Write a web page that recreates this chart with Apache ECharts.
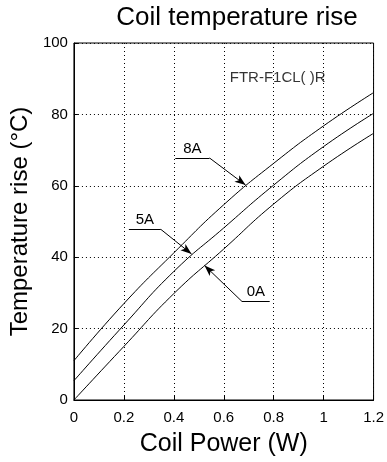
<!DOCTYPE html>
<html>
<head>
<meta charset="utf-8">
<script src="https://cdn.jsdelivr.net/npm/echarts@6/dist/echarts.min.js"></script>
<style>
  html, body { margin: 0; padding: 0; background: #fff; }
  #chart { width: 387px; height: 462px; }
</style>
</head>
<body>
<div id="chart"></div>
<script>
// coil power (W)
const power = [0, 0.2, 0.4, 0.6, 0.8, 1.0, 1.2];
// temperature rise (°C) per contact current
const rise0A = [0, 15, 29.8, 42.3, 54.9, 65.5, 74.7];
const rise5A = [5.4, 21, 36, 48.2, 60.2, 71, 80.3];
const rise8A = [11, 27, 41.2, 54.7, 66.3, 76.8, 86.1];

const xTicks = [0, 0.2, 0.4, 0.6, 0.8, 1, 1.2];
const yTicks = [0, 20, 40, 60, 80, 100];

// leader lines: [label anchor, underline end, arrow tip] in data coords
const leader8A = [[0.406, 67.8], [0.543, 67.8], [0.6875, 60.2]];
const leader5A = [[0.22, 47.8], [0.348, 47.8], [0.471, 40.9]];
const leader0A = [[0.784, 27.6], [0.673, 27.6], [0.523, 37.7]];
const partNo = { text: "FTR-F1CL( )R", at: [0.816, 90.3] };

const font = "Liberation Sans, Arial, sans-serif";

function pairs(xs, ys) {
  return xs.map((x, i) => [x, ys[i]]);
}

function leaderMarks(pts) {
  return [
    [{ coord: pts[0], symbol: "none" }, { coord: pts[1], symbol: "none" }],
    [{ coord: pts[1], symbol: "none" }, { coord: pts[2], symbol: "arrow" }],
  ];
}

function curve(name, ys, pts) {
  // label sits above the middle of the underline
  const mid = [(pts[0][0] + pts[1][0]) / 2, pts[0][1]];
  return {
    name: name,
    type: "line",
    smooth: true,
    showSymbol: false,
    silent: true,
    lineStyle: { color: "#000", width: 1 },
    data: pairs(power, ys),
    markLine: {
      silent: true,
      symbolSize: [6, 11],
      lineStyle: { color: "#000", width: 1, type: "solid" },
      label: { show: false },
      data: leaderMarks(pts),
    },
    markPoint: {
      silent: true,
      symbolSize: 0,
      data: [{ coord: mid, value: name }],
      label: {
        show: true,
        position: "top",
        distance: 2,
        color: "#000",
        fontFamily: font,
        fontSize: 15,
        formatter: name,
      },
    },
  };
}

const chart = echarts.init(document.getElementById("chart"), undefined, {
  renderer: "canvas",
});

chart.setOption({
  animation: false,
  backgroundColor: "#fff",
  title: {
    text: "Coil temperature rise",
    left: 237,
    top: 5,
    padding: 0,
    textAlign: "center",
    textStyle: { color: "#000", fontFamily: font, fontSize: 26, fontWeight: "normal" },
  },
  grid: {
    left: 71,
    right: 8,
    top: 43,
    bottom: 62,
    show: true,
    borderColor: "#000",
    borderWidth: 1,
  },
  xAxis: {
    type: "value",
    min: xTicks[0],
    max: xTicks[xTicks.length - 1],
    interval: 0.2,
    name: "Coil Power (W)",
    nameLocation: "middle",
    nameGap: 32,
    nameTextStyle: { color: "#000", fontFamily: font, fontSize: 25 },
    axisLine: { lineStyle: { color: "#000", width: 1 } },
    axisTick: { inside: true, length: 4, lineStyle: { color: "#000" } },
    axisLabel: { color: "#000", fontFamily: font, fontSize: 15, margin: 10 },
    splitLine: { show: true, lineStyle: { color: "#000", type: [1, 3], width: 1 } },
  },
  yAxis: {
    type: "value",
    min: yTicks[0],
    max: yTicks[yTicks.length - 1],
    interval: 20,
    name: "Temperature rise (°C)",
    nameLocation: "middle",
    nameGap: 27,
    nameTextStyle: { color: "#000", fontFamily: font, fontSize: 24 },
    axisLine: { show: true, lineStyle: { color: "#000", width: 1 } },
    axisTick: { show: true, inside: true, length: 4, lineStyle: { color: "#000" } },
    axisLabel: { color: "#000", fontFamily: font, fontSize: 15, margin: 6 },
    splitLine: { show: true, lineStyle: { color: "#000", type: [1, 3], width: 1 } },
  },
  series: [
    curve("8A", rise8A, leader8A),
    curve("5A", rise5A, leader5A),
    curve("0A", rise0A, leader0A),
    {
      type: "scatter",
      silent: true,
      symbolSize: 0,
      data: [partNo.at],
      label: {
        show: true,
        position: "inside",
        color: "#000",
        fontFamily: font,
        fontSize: 15,
        formatter: partNo.text,
      },
    },
  ],
});
</script>
</body>
</html>
